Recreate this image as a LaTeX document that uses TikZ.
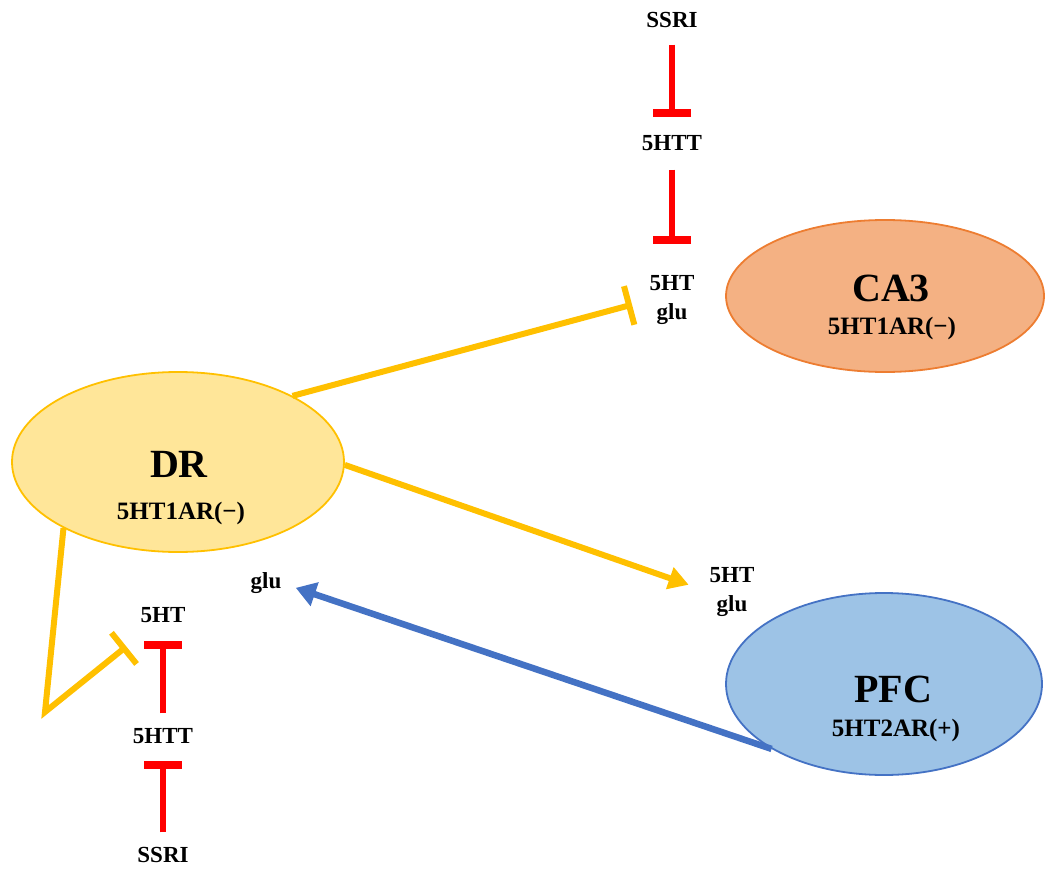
\documentclass[tikz,border=0pt]{standalone}
\usepackage{fontspec}
\setmainfont{Liberation Serif}
\usetikzlibrary{arrows.meta,shapes.geometric}
\definecolor{drfill}{HTML}{FFE699}
\definecolor{gold}{HTML}{FFC000}
\definecolor{cafill}{HTML}{F4B183}
\definecolor{caline}{HTML}{ED7D31}
\definecolor{pffill}{HTML}{9DC3E6}
\definecolor{pfline}{HTML}{4472C4}
\definecolor{inhred}{HTML}{FF0000}
\begin{document}
\begin{tikzpicture}[x=1pt,y=-1pt,
  region/.style={ellipse, line width=1.8pt, inner sep=0pt},
  title/.style={font=\fontsize{40}{40}\selectfont\bfseries, inner sep=0pt},
  sub/.style={font=\fontsize{25}{25}\selectfont\bfseries, inner sep=0pt},
  lbl/.style={font=\fontsize{23}{29}\selectfont\bfseries, inner sep=0pt,
              text height=16pt, text depth=5pt},
  syn/.style={font=\fontsize{23}{29}\selectfont\bfseries, inner sep=0pt, align=center},
  goldline/.style={draw=gold, line width=6pt},
  goldinhib/.style={goldline, -{Bar[width=40pt]}},
  goldact/.style={goldline, -{Triangle[width=22pt,length=20pt]}},
  blueact/.style={draw=pfline, line width=6.5pt, -{Triangle[width=24pt,length=20pt]}},
  inhib/.style={draw=inhred, line width=6pt, -{Bar[width=38pt,line width=8pt]}}]
\useasboundingbox (0,0) rectangle (1049,869);

% brain regions
\node[region, fill=drfill, draw=gold, minimum width=332pt, minimum height=180pt] (dr) at (178,462) {};
\node[region, fill=cafill, draw=caline, minimum width=318pt, minimum height=152pt] (ca) at (885,296) {};
\node[region, fill=pffill, draw=pfline, minimum width=316pt, minimum height=182pt] (pfc) at (884,684) {};

\node[title] (drT) at (179,464) {DR};
\node[sub]   (drS) at (181,513) {5HT1AR(−)};
\node[title] (caT) at (891,288) {CA3};
\node[sub]   (caS) at (892,328) {5HT1AR(−)};
\node[title] (pfT) at (893,689) {PFC};
\node[sub]   (pfS) at (896,730) {5HT2AR(+)};

% CA3 terminal: SSRI -| 5HTT -| 5HT
\node[lbl] (ssriA) at (672,22)  {SSRI};
\node[lbl] (httA)  at (672,145) {5HTT};
\node[syn] (synA)  at (672,300) {5HT\\glu};

% PFC terminal
\node[syn] (synB)  at (732,592) {5HT\\glu};

% DR local terminal
\node[lbl] (gluC)  at (266,583) {glu};
\node[lbl] (htC)   at (163,617) {5HT};
\node[lbl] (httC)  at (163,738) {5HTT};
\node[lbl] (ssriC) at (163,857) {SSRI};

\coordinate (bend) at (45,712);

% SSRI / transporter inhibitions
\draw[inhib, shorten <=12pt, shorten >=17pt] (ssriA) -- (httA);
\draw[inhib, shorten <=14pt, shorten >=31pt] (httA) -- (synA.north);
\draw[inhib, shorten <=14pt, shorten >=12pt] (ssriC) -- (httC);
\draw[inhib, shorten <=14pt, shorten >=13.5pt] (httC) -- (htC);

% serotonergic projections from DR
\draw[goldinhib, shorten >=18pt] (dr.30) -- (synA.west);
\draw[goldact, shorten >=22pt] (dr.-1) -- (synB.west);
\draw[goldinhib, line join=miter, shorten >=30pt] (dr.210) -- (bend) -- (htC);

% glutamatergic feedback from PFC
\draw[blueact, shorten >=15pt] (pfc.210) -- (gluC.east);
\end{tikzpicture}
\end{document}
